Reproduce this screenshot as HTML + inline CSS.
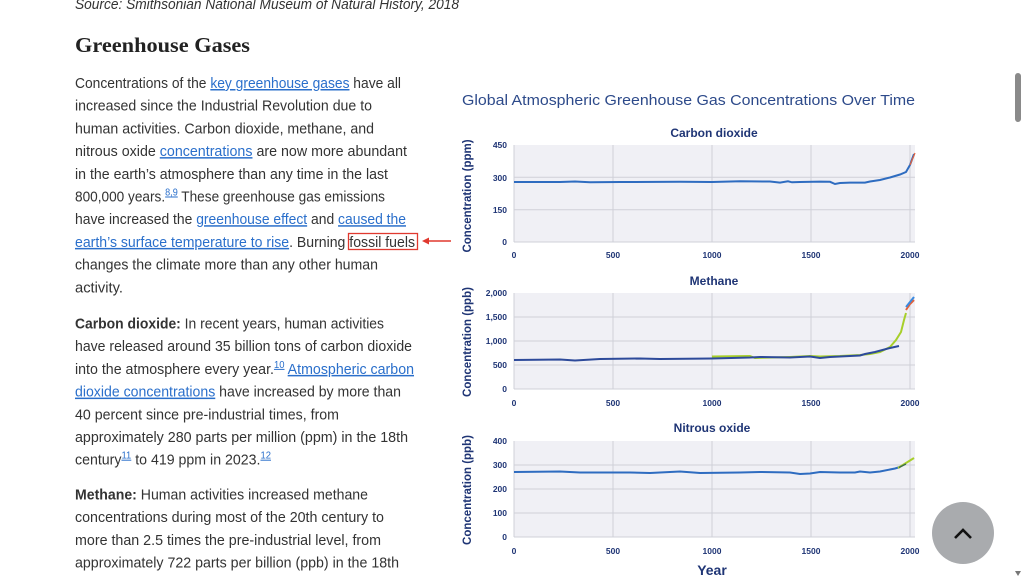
<!DOCTYPE html>
<html><head><meta charset="utf-8"><style>
html,body{margin:0;padding:0;background:#fff;width:1024px;height:576px;overflow:hidden}
svg{display:block}
.t{font-family:"Liberation Sans",sans-serif;font-size:15px;fill:#333}
.a{fill:#2a6fcb;text-decoration:underline}
.b{font-weight:bold}
.tk{font-family:"Liberation Sans",sans-serif;font-size:8.5px;font-weight:bold;fill:#1f3575}
.st{font-family:"Liberation Sans",sans-serif;font-size:12px;font-weight:bold;fill:#1f3575}
.yl{font-family:"Liberation Sans",sans-serif;font-size:11.5px;font-weight:bold;fill:#1f3575}
.g{stroke:#cfd0d8;stroke-width:1}
</style></head><body>
<svg width="1024" height="576" viewBox="0 0 1024 576" xmlns="http://www.w3.org/2000/svg">
<text x="75" y="9" class="t" font-style="italic" textLength="384" lengthAdjust="spacingAndGlyphs" fill="#444">Source: Smithsonian National Museum of Natural History, 2018</text>
<text x="75" y="52" font-family="Liberation Serif,serif" font-weight="bold" font-size="21" fill="#222" textLength="175" lengthAdjust="spacingAndGlyphs">Greenhouse Gases</text>

<text class="t" x="75" y="88" textLength="326" lengthAdjust="spacingAndGlyphs">Concentrations of the <tspan class="a">key greenhouse gases</tspan> have all</text>
<text class="t" x="75" y="110.7" textLength="297" lengthAdjust="spacingAndGlyphs">increased since the Industrial Revolution due to</text>
<text class="t" x="75" y="133.4" textLength="299" lengthAdjust="spacingAndGlyphs">human activities. Carbon dioxide, methane, and</text>
<text class="t" x="75" y="156.1" textLength="332" lengthAdjust="spacingAndGlyphs">nitrous oxide <tspan class="a">concentrations</tspan> are now more abundant</text>
<text class="t" x="75" y="178.8" textLength="313" lengthAdjust="spacingAndGlyphs">in the earth’s atmosphere than any time in the last</text>
<text class="t" x="75" y="201.5" textLength="310" lengthAdjust="spacingAndGlyphs">800,000 years.<tspan class="a" font-size="10" dy="-6">8,9</tspan><tspan dy="6"> These greenhouse gas emissions</tspan></text>
<text class="t" x="75" y="224.2" textLength="331" lengthAdjust="spacingAndGlyphs">have increased the <tspan class="a">greenhouse effect</tspan> and <tspan class="a">caused the</tspan></text>
<text class="t" x="75" y="246.9" textLength="340" lengthAdjust="spacingAndGlyphs"><tspan class="a">earth’s surface temperature to rise</tspan>. Burning fossil fuels</text>
<rect x="348.5" y="233.5" width="69" height="16" fill="none" stroke="#e0392f" stroke-width="1.3"/>
<line x1="426" y1="241" x2="451" y2="241" stroke="#e0392f" stroke-width="1.5"/>
<polygon points="422,241 429,237.5 429,244.5" fill="#e0392f"/>
<text class="t" x="75" y="269.6" textLength="303" lengthAdjust="spacingAndGlyphs">changes the climate more than any other human</text>
<text class="t" x="75" y="292.3" textLength="48" lengthAdjust="spacingAndGlyphs">activity.</text>

<text class="t" x="75" y="328.5" textLength="309" lengthAdjust="spacingAndGlyphs"><tspan class="b">Carbon dioxide:</tspan> In recent years, human activities</text>
<text class="t" x="75" y="351.2" textLength="337" lengthAdjust="spacingAndGlyphs">have released around 35 billion tons of carbon dioxide</text>
<text class="t" x="75" y="373.9" textLength="339" lengthAdjust="spacingAndGlyphs">into the atmosphere every year.<tspan class="a" font-size="10" dy="-6">10</tspan><tspan dy="6"> </tspan><tspan class="a">Atmospheric carbon</tspan></text>
<text class="t" x="75" y="396.6" textLength="326" lengthAdjust="spacingAndGlyphs"><tspan class="a">dioxide concentrations</tspan> have increased by more than</text>
<text class="t" x="75" y="419.3" textLength="264" lengthAdjust="spacingAndGlyphs">40 percent since pre-industrial times, from</text>
<text class="t" x="75" y="442" textLength="333" lengthAdjust="spacingAndGlyphs">approximately 280 parts per million (ppm) in the 18th</text>
<text class="t" x="75" y="464.7" textLength="196" lengthAdjust="spacingAndGlyphs">century<tspan class="a" font-size="10" dy="-6">11</tspan><tspan dy="6"> to 419 ppm in 2023.</tspan><tspan class="a" font-size="10" dy="-6">12</tspan></text>

<text class="t" x="75" y="499.5" textLength="293" lengthAdjust="spacingAndGlyphs"><tspan class="b">Methane:</tspan> Human activities increased methane</text>
<text class="t" x="75" y="522.2" textLength="309" lengthAdjust="spacingAndGlyphs">concentrations during most of the 20th century to</text>
<text class="t" x="75" y="544.9" textLength="306" lengthAdjust="spacingAndGlyphs">more than 2.5 times the pre-industrial level, from</text>
<text class="t" x="75" y="567.6" textLength="324" lengthAdjust="spacingAndGlyphs">approximately 722 parts per billion (ppb) in the 18th</text>

<!-- Chart -->
<text x="462" y="105" font-family="Liberation Sans,sans-serif" font-size="15" fill="#2d4a8a" textLength="453" lengthAdjust="spacingAndGlyphs">Global Atmospheric Greenhouse Gas Concentrations Over Time</text>

<!-- panel 1 -->
<text class="st" x="714" y="137" text-anchor="middle">Carbon dioxide</text>
<rect x="514" y="145" width="401" height="97" fill="#f0f0f5"/>
<g class="g"><line x1="514" y1="177.3" x2="915" y2="177.3"/><line x1="514" y1="209.7" x2="915" y2="209.7"/><line x1="613" y1="145" x2="613" y2="242"/><line x1="712" y1="145" x2="712" y2="242"/><line x1="811" y1="145" x2="811" y2="242"/><line x1="910" y1="145" x2="910" y2="242"/><line x1="514" y1="242" x2="915" y2="242"/><line x1="514" y1="145" x2="514" y2="242"/></g>
<g class="tk" text-anchor="end"><text x="507" y="148">450</text><text x="507" y="181">300</text><text x="507" y="213">150</text><text x="507" y="245">0</text></g>
<g class="tk" text-anchor="middle"><text x="514" y="258">0</text><text x="613" y="258">500</text><text x="712" y="258">1000</text><text x="811" y="258">1500</text><text x="910" y="258">2000</text></g>
<text class="yl" transform="translate(471,196) rotate(-90)" text-anchor="middle">Concentration (ppm)</text>
<path d="M514,182 L560,182 L575,181.5 L590,182.3 L620,182 L680,181.8 L712,182 L740,181.3 L770,181.5 L780,182.6 L788,181.3 L792,182.3 L800,182 L820,181.6 L830,181.8 L835,184 L840,183 L850,182.6 L865,182.6 L870,181.5 L880,180 L890,177.5 L900,174.5 L906,172 L910,165 L914,154" fill="none" stroke="#2e6cc0" stroke-width="2"/>
<path d="M910,165 L915,153" fill="none" stroke="#e2603a" stroke-width="1.2"/>

<!-- panel 2 -->
<text class="st" x="714" y="285" text-anchor="middle">Methane</text>
<rect x="514" y="293" width="401" height="96" fill="#f0f0f5"/>
<g class="g"><line x1="514" y1="317" x2="915" y2="317"/><line x1="514" y1="341" x2="915" y2="341"/><line x1="514" y1="365" x2="915" y2="365"/><line x1="613" y1="293" x2="613" y2="389"/><line x1="712" y1="293" x2="712" y2="389"/><line x1="811" y1="293" x2="811" y2="389"/><line x1="910" y1="293" x2="910" y2="389"/><line x1="514" y1="389" x2="915" y2="389"/><line x1="514" y1="293" x2="514" y2="389"/></g>
<g class="tk" text-anchor="end"><text x="507" y="296">2,000</text><text x="507" y="320">1,500</text><text x="507" y="344">1,000</text><text x="507" y="368">500</text><text x="507" y="392">0</text></g>
<g class="tk" text-anchor="middle"><text x="514" y="406">0</text><text x="613" y="406">500</text><text x="712" y="406">1000</text><text x="811" y="406">1500</text><text x="910" y="406">2000</text></g>
<text class="yl" transform="translate(471,342) rotate(-90)" text-anchor="middle">Concentration (ppb)</text>
<path d="M712,356.5 L750,356 L755,358 L790,357 L800,356.5 L810,356 L820,356.5 L840,356 L860,355 L870,354 L880,352 L890,347 L896,340 L901,332 L904,320 L906,313" fill="none" stroke="#a7cf2a" stroke-width="2"/>
<path d="M514,360 L560,359.5 L575,360.5 L600,359 L640,358.5 L660,359 L712,358.5 L750,357.5 L760,357 L790,357.5 L810,356.5 L820,358 L830,357 L860,355.5 L865,354 L875,352 L890,348 L899,346" fill="none" stroke="#2d4a9a" stroke-width="2"/>
<path d="M906,310 L910,304 L914,300" fill="none" stroke="#e2603a" stroke-width="2"/>
<path d="M906,307 L910,302 L914,297" fill="none" stroke="#3a8ae0" stroke-width="2"/>

<!-- panel 3 -->
<text class="st" x="712" y="432" text-anchor="middle">Nitrous oxide</text>
<rect x="514" y="441" width="401" height="96" fill="#f0f0f5"/>
<g class="g"><line x1="514" y1="465" x2="915" y2="465"/><line x1="514" y1="489" x2="915" y2="489"/><line x1="514" y1="513" x2="915" y2="513"/><line x1="613" y1="441" x2="613" y2="537"/><line x1="712" y1="441" x2="712" y2="537"/><line x1="811" y1="441" x2="811" y2="537"/><line x1="910" y1="441" x2="910" y2="537"/><line x1="514" y1="537" x2="915" y2="537"/><line x1="514" y1="441" x2="514" y2="537"/></g>
<g class="tk" text-anchor="end"><text x="507" y="444">400</text><text x="507" y="468">300</text><text x="507" y="492">200</text><text x="507" y="516">100</text><text x="507" y="540">0</text></g>
<g class="tk" text-anchor="middle"><text x="514" y="554">0</text><text x="613" y="554">500</text><text x="712" y="554">1000</text><text x="811" y="554">1500</text><text x="910" y="554">2000</text></g>
<text class="yl" transform="translate(471,490) rotate(-90)" text-anchor="middle">Concentration (ppb)</text>
<path d="M514,472 L560,471.5 L580,472.5 L630,472.5 L650,473 L680,471.5 L700,473 L740,472.5 L760,472 L790,472.5 L800,474 L810,473.5 L820,472 L840,472.5 L855,472.5 L860,471.5 L870,472.5 L880,471.5 L895,468.5 L900,467" fill="none" stroke="#2e6cc0" stroke-width="2"/>
<path d="M898,468 L906,463 L914,458" fill="none" stroke="#a7cf2a" stroke-width="2"/>
<path d="M899,467.5 L906,464" fill="none" stroke="#3d6e4a" stroke-width="1.5"/>
<text x="712" y="575" font-family="Liberation Sans,sans-serif" font-size="14" font-weight="bold" fill="#1f3575" text-anchor="middle">Year</text>

<!-- scrollbar -->
<rect x="1015" y="73" width="6" height="49" rx="3" fill="#8a8a8a"/>
<polygon points="1015,571 1021,571 1018,576" fill="#777"/>
<!-- back to top -->
<circle cx="963" cy="533" r="31" fill="#a9abae"/>
<polyline points="955,538 963,530 971,538" fill="none" stroke="#111" stroke-width="2.6"/>
</svg>
</body></html>
